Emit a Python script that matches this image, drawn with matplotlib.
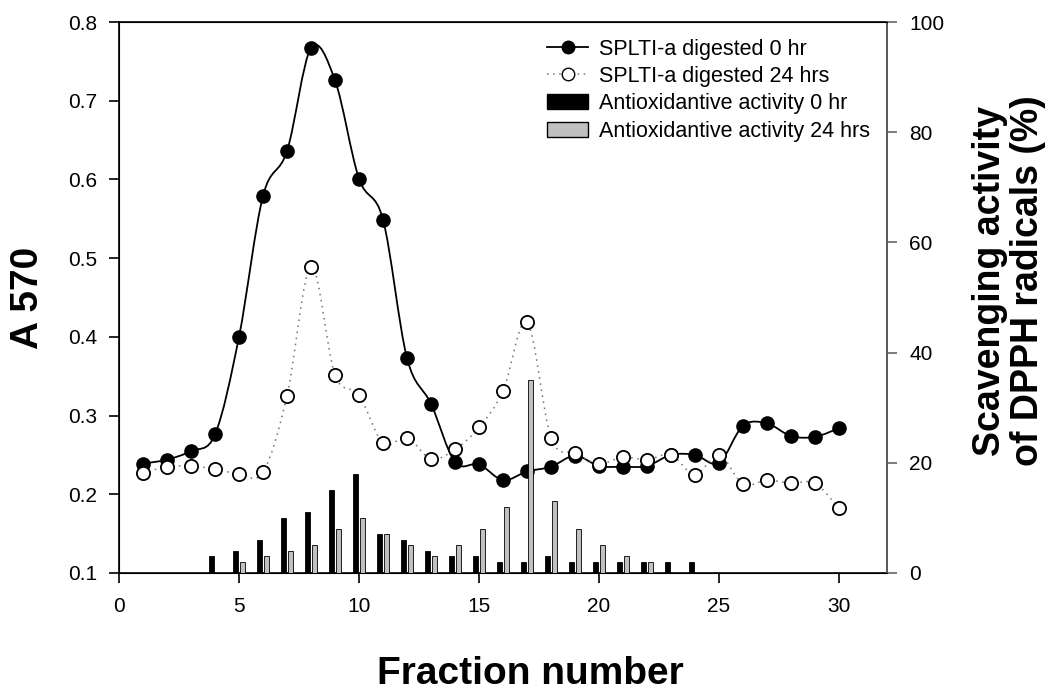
import numpy as np
import matplotlib
matplotlib.use('Agg')
import matplotlib.pyplot as plt
from matplotlib.path import Path
from matplotlib.patches import PathPatch, Patch
from matplotlib.lines import Line2D

plt.rcParams['font.family'] = ['Liberation Sans', 'DejaVu Sans']

# ---- data ----
fractions = np.arange(1, 31)
a570_0hr = [0.239, 0.244, 0.255, 0.276, 0.400, 0.579, 0.636, 0.767, 0.726, 0.601,
            0.549, 0.373, 0.315, 0.241, 0.238, 0.218, 0.229, 0.235, 0.249, 0.236,
            0.235, 0.236, 0.250, 0.250, 0.240, 0.287, 0.290, 0.274, 0.273, 0.284]
a570_24hr = [0.227, 0.235, 0.236, 0.232, 0.226, 0.228, 0.325, 0.489, 0.352, 0.326,
             0.265, 0.272, 0.245, 0.257, 0.285, 0.331, 0.419, 0.272, 0.252, 0.239,
             0.247, 0.244, 0.250, 0.225, 0.250, 0.213, 0.218, 0.214, 0.214, 0.182]

bar_fractions = np.arange(4, 25)
activity_0hr = [3, 4, 6, 10, 11, 15, 18, 7, 6, 4, 3, 3, 2, 2, 3, 2, 2, 2, 2, 2, 2]
activity_24hr = [0, 2, 3, 4, 5, 8, 10, 7, 5, 3, 5, 8, 12, 35, 13, 8, 5, 3, 2, 0, 0]

labels = ['SPLTI-a digested 0 hr', 'SPLTI-a digested 24 hrs',
          'Antioxidantive activity 0 hr', 'Antioxidantive activity 24 hrs']


def smooth_path(x, y):
    # Catmull-Rom curve written as cubic Bezier segments
    x = np.asarray(x, float)
    y = np.asarray(y, float)
    p = np.column_stack([x, y])
    pp = np.vstack([p[0], p, p[-1]])
    verts = [p[0]]
    codes = [Path.MOVETO]
    for i in range(len(p) - 1):
        p0, p1, p2, p3 = pp[i], pp[i + 1], pp[i + 2], pp[i + 3]
        verts += [p1 + (p2 - p0) / 6, p2 - (p3 - p1) / 6, p2]
        codes += [Path.CURVE4] * 3
    return Path(verts, codes)


fig = plt.figure(figsize=(10.53, 6.93), dpi=100)
ax = fig.add_axes([119 / 1053, 1 - 573 / 693, (887 - 119) / 1053, (573 - 22) / 693])

ax.add_patch(PathPatch(smooth_path(fractions, a570_0hr), facecolor='none',
                       edgecolor='black', lw=1.3, zorder=2))
ax.add_patch(PathPatch(smooth_path(fractions, a570_24hr), facecolor='none',
                       edgecolor='0.45', lw=1.1, linestyle=(0, (1, 3)), zorder=2))
ax.plot(fractions, a570_0hr, 'o', color='black', ms=9.5, zorder=3)
ax.plot(fractions, a570_24hr, 'o', mfc='white', mec='black', mew=1.3, ms=9.5, zorder=3)

ax.set_xlim(0, 32)
ax.set_ylim(0.1, 0.8)
ax.set_xticks([0, 5, 10, 15, 20, 25, 30])
ax.set_yticks([0.1, 0.2, 0.3, 0.4, 0.5, 0.6, 0.7, 0.8])
ax.tick_params(direction='out', length=7, width=1.2, labelsize=15)
ax.tick_params(axis='x', pad=10)
ax.tick_params(axis='y', pad=9)
for s in ax.spines.values():
    s.set_linewidth(1.2)
ax.set_xlabel('Fraction number', fontsize=28, fontweight='bold')
ax.xaxis.set_label_coords(0.535, -0.15)
ax.set_ylabel('A 570', fontsize=28, fontweight='bold')
ax.yaxis.set_label_coords(-0.118, 0.5)
ax.yaxis.label.set_verticalalignment('center')

ax2 = ax.twinx()
w = 0.2
ax2.bar(bar_fractions - 0.13, activity_0hr, width=w, color='black', edgecolor='black',
        lw=0.6, zorder=4)
ax2.bar(bar_fractions + 0.13, activity_24hr, width=w, color='#c0c0c0', edgecolor='black',
        lw=0.6, zorder=4)
ax2.set_ylim(0, 100)
ax2.set_yticks([0, 20, 40, 60, 80, 100])
ax2.tick_params(direction='out', length=7, width=1.2, labelsize=15, pad=9,
                color='0.4', labelcolor='black')
ax2.spines['right'].set_color('0.4')
ax2.spines['right'].set_linewidth(1.2)
ax2.set_ylabel('Scavenging activity\nof DPPH radicals (%)', fontsize=27,
               fontweight='bold', linespacing=1.05)
ax2.yaxis.set_label_coords(1.159, 0.53)
ax2.yaxis.label.set_verticalalignment('center')

handles = [
    Line2D([], [], color='black', lw=1.3, marker='o', ms=9),
    Line2D([], [], color='0.45', lw=1.1, linestyle=(0, (1, 3)), marker='o', ms=9,
           mfc='white', mec='black'),
    Patch(facecolor='black', edgecolor='black'),
    Patch(facecolor='#c0c0c0', edgecolor='black'),
]
ax2.legend(handles, labels, loc='upper right', bbox_to_anchor=(0.978, 0.97),
           frameon=False, fontsize=15.5, handlelength=1.9, handletextpad=0.5,
           labelspacing=0.3, borderpad=0, borderaxespad=0)

fig.savefig('out.png', dpi=100)
